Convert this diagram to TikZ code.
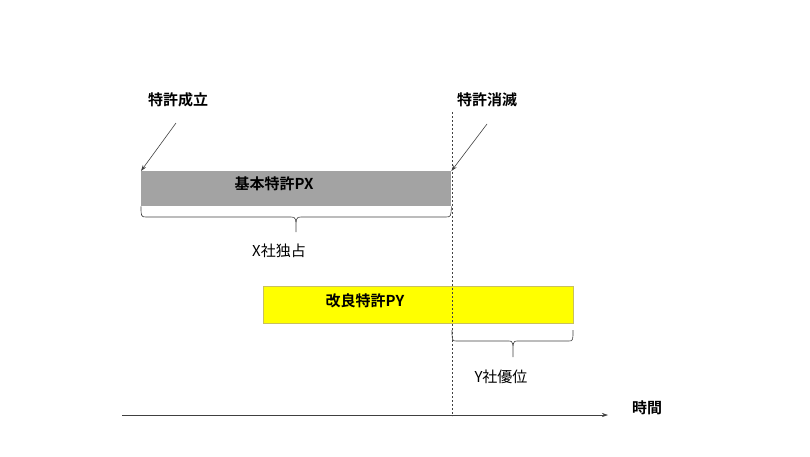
\documentclass[tikz,border=0pt]{standalone}
\usepackage{fontspec}
\newfontfamily\jp{Noto Sans CJK JP}
\newfontfamily\jpb{Noto Sans CJK JP Bold}
\usetikzlibrary{arrows.meta}
\definecolor{pxgray}{HTML}{A3A3A3}
\definecolor{pyyellow}{HTML}{FFFF00}
\definecolor{pyedge}{HTML}{C8C060}
\definecolor{linegray}{HTML}{404040}
\tikzset{
  lbl/.style={font=\jpb\fontsize{15}{17}\selectfont, inner sep=0pt, text=black},
  lbln/.style={font=\jp\fontsize{15}{17}\selectfont, inner sep=0pt, text=black},
  bar/.style={draw=none, inner sep=0pt, anchor=north west},
  pointer/.style={draw=linegray, line width=0.6pt, -{Stealth[length=6pt,width=4pt]}},
  bracestyle/.style={draw=linegray, line width=0.6pt},
}
\begin{document}
\begin{tikzpicture}[x=1pt,y=-1pt]
\useasboundingbox (0,0) rectangle (810,456);
% bars
\node[bar, fill=pxgray, minimum width=310pt, minimum height=35pt] (px) at (141,171) {};
\node[bar, fill=pyyellow, draw=pyedge, line width=0.6pt, minimum width=310pt, minimum height=37pt] (py) at (263,286) {};
\node[lbl] (pxt) at (274,184) {基本特許PX};
\node[lbl] (pyt) at (365,301) {改良特許PY};
% dashed line
\coordinate (dtop) at (452,112);
\coordinate (dbot) at (452,416);
\draw[linegray, line width=0.6pt, dash pattern=on 2pt off 2pt] (dtop) -- (dbot);
% labels on top
\node[lbl] (est) at (178,100) {特許成立};
\node[lbl] (ext) at (487,100) {特許消滅};
\coordinate (a1s) at (176,123);
\coordinate (a2s) at (487,124);
\draw[pointer] (a1s) -- (px.north west);
\draw[pointer] (a2s) -- (px.north east);
% braces
\draw[bracestyle] (px.south west) .. controls (141,216) and (141,217) .. (146,217) -- (291,217)
  .. controls (296,217) and (296,218) .. (296,232)
  .. controls (296,218) and (296,217) .. (301,217) -- (446,217)
  .. controls (451,217) and (451,216) .. (px.south east);
\draw[bracestyle] (452,330) .. controls (452,340) and (452,341) .. (456,341) -- (509,341)
  .. controls (513,341) and (513,342) .. (513,357)
  .. controls (513,342) and (513,341) .. (517,341) -- (569,341)
  .. controls (573,341) and (573,340) .. (573,330);
\node[lbln] (xm) at (279,251) {X社独占};
\node[lbln] (yy) at (501,377) {Y社優位};
% axis
\coordinate (ax0) at (122,415);
\coordinate (ax1) at (608,415);
\draw[linegray, line width=0.6pt, -{Stealth[length=6pt,width=4pt]}] (ax0) -- (ax1);
\node[lbl] (tm) at (647,408) {時間};
\end{tikzpicture}
\end{document}
